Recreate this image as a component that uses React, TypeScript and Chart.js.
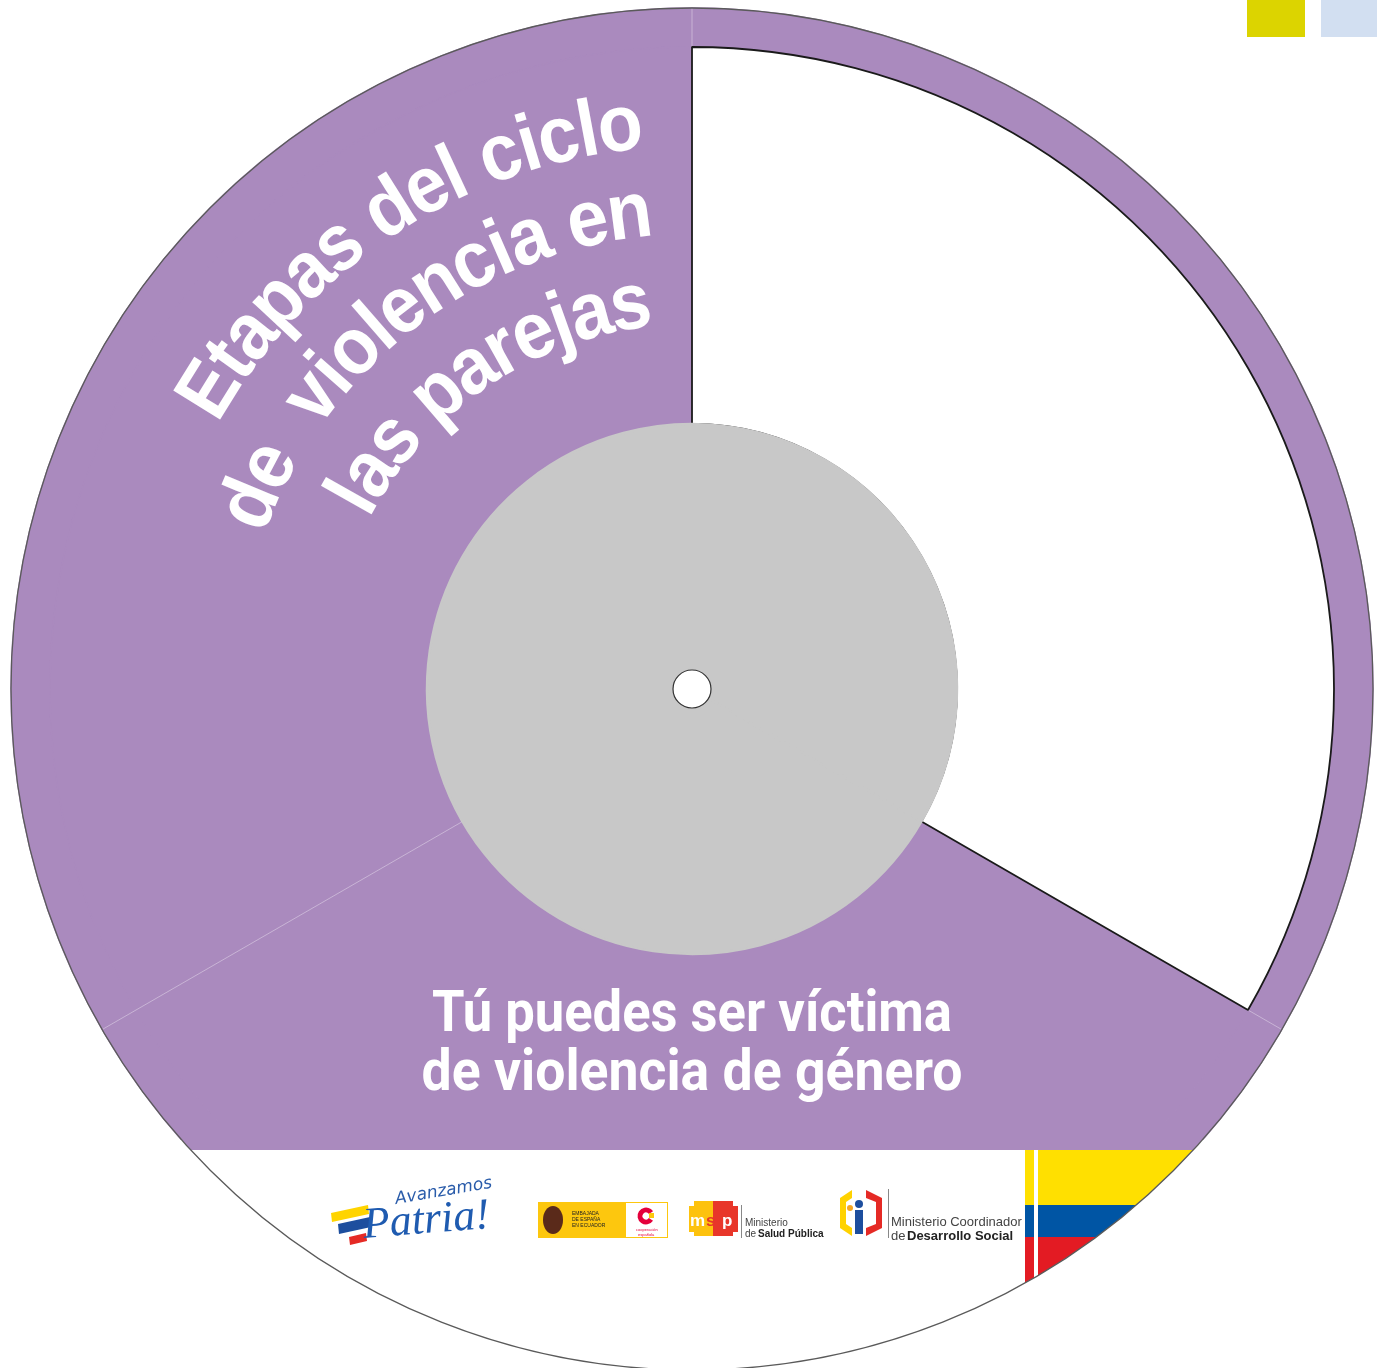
import React, { useEffect, useRef } from "react";
import { Chart, registerables } from "chart.js";

Chart.register(...registerables);

// ---- data ----
const segmentLabels = ["Etapa A", "Etapa B", "Etapa C"];
const ringValues = [1, 1, 1];
const segmentValues = [1, 1, 1];
const hubValues = [1];
const titleLines = ["Etapas del ciclo", "de  violencia en", "las parejas"];
const titleStartAngles = [-58.2, -67.3, -60.6];
const titleEndAngles = [-7.3, -7.5, -9.1];
const titleRadii = [543, 455, 365];
const subtitleLines = ["Tú puedes ser víctima", "de violencia de género"];

// ---- styles ----
const PURPLE = "#AA8ABE";
const GRAY = "#C8C8C8";
const SEP = "rgba(255,255,255,0.4)";

function arcText(ctx: CanvasRenderingContext2D, text: string, cx: number, cy: number, r: number, a0: number, a1: number, sx: number) {
  const chars = Array.from(text);
  const widths = chars.map((c) => ctx.measureText(c).width);
  const centers: number[] = [];
  let acc = 0;
  widths.forEach((w) => {
    centers.push(acc + w / 2);
    acc += w;
  });
  const first = centers[0];
  const last = centers[centers.length - 1];
  chars.forEach((ch, i) => {
    if (ch === " ") return;
    const a = ((a0 + ((centers[i] - first) / (last - first)) * (a1 - a0)) * Math.PI) / 180;
    ctx.save();
    ctx.translate(cx + r * Math.sin(a), cy - r * Math.cos(a));
    ctx.rotate(a);
    ctx.scale(sx, 1);
    ctx.textAlign = "center";
    ctx.textBaseline = "alphabetic";
    ctx.fillText(ch, 0, 0);
    ctx.restore();
  });
}

function fitText(ctx: CanvasRenderingContext2D, text: string, cx: number, y: number, width: number) {
  const w = ctx.measureText(text).width;
  ctx.save();
  ctx.translate(cx, y);
  ctx.scale(width / w, 1);
  ctx.textAlign = "center";
  ctx.fillText(text, 0, 0);
  ctx.restore();
}

const decor = {
  id: "decor",
  afterDatasetsDraw(chart: any) {
    const ctx: CanvasRenderingContext2D = chart.ctx;
    const outer = chart.getDatasetMeta(0).data;
    const hub = chart.getDatasetMeta(2).data[0];
    const cx = outer[0].x;
    const cy = outer[0].y;
    const R = outer[0].outerRadius;
    const rRing = outer[0].innerRadius;
    const rHub = hub.outerRadius;

    // faint separators between segments
    const radial = (angle: number, r0: number, r1: number) => {
      ctx.beginPath();
      ctx.moveTo(cx + r0 * Math.cos(angle), cy + r0 * Math.sin(angle));
      ctx.lineTo(cx + r1 * Math.cos(angle), cy + r1 * Math.sin(angle));
      ctx.stroke();
    };
    ctx.save();
    ctx.strokeStyle = SEP;
    ctx.lineWidth = 0.9;
    radial(outer[0].startAngle, rRing + 1, R);
    radial(outer[1].startAngle, rHub + 1, R);
    radial(outer[2].startAngle, rRing + 1, R);
    ctx.restore();

    // bottom white area + flag, clipped to the disc
    ctx.save();
    ctx.beginPath();
    ctx.arc(cx, cy, R + 1, 0, Math.PI * 2);
    ctx.clip();
    ctx.fillStyle = "#ffffff";
    ctx.fillRect(0, 1150, 1377, 300);
    ctx.fillStyle = "#FFE000";
    ctx.fillRect(1025, 1150, 400, 55);
    ctx.fillStyle = "#0055A4";
    ctx.fillRect(1025, 1205, 400, 32);
    ctx.fillStyle = "#E31B23";
    ctx.fillRect(1025, 1237, 400, 200);
    ctx.fillStyle = "#ffffff";
    ctx.fillRect(1034, 1150, 4, 300);
    ctx.restore();
    // white outside the disc (covers flag overflow)
    ctx.save();
    ctx.beginPath();
    ctx.rect(0, 0, 1377, 1368);
    ctx.arc(cx, cy, R, 0, Math.PI * 2, true);
    ctx.clip();
    ctx.fillStyle = "#ffffff";
    ctx.fillRect(0, 1140, 1377, 300);
    ctx.restore();

    // outline of the disc
    ctx.save();
    ctx.strokeStyle = "#5a5a5a";
    ctx.lineWidth = 1.3;
    ctx.beginPath();
    ctx.arc(cx, cy, R, 0, Math.PI * 2);
    ctx.stroke();
    // centre hole outline
    ctx.strokeStyle = "#333";
    ctx.lineWidth = 1.2;
    ctx.beginPath();
    ctx.arc(cx, cy, hub.innerRadius, 0, Math.PI * 2);
    ctx.fillStyle = "#fff";
    ctx.fill();
    ctx.stroke();
    ctx.restore();

    // curved title
    ctx.save();
    ctx.fillStyle = "#ffffff";
    ctx.font = "bold 80px 'Liberation Sans', Arial, sans-serif";
    titleLines.forEach((t, i) => arcText(ctx, t, cx, cy, titleRadii[i], titleStartAngles[i], titleEndAngles[i], 0.92));
    ctx.restore();

    // bottom text
    ctx.save();
    ctx.fillStyle = "#ffffff";
    ctx.font = "bold 58px Roboto, 'Liberation Sans', sans-serif";
    fitText(ctx, subtitleLines[0], 692, 1031, 520);
    fitText(ctx, subtitleLines[1], 692, 1090, 541);
    ctx.restore();

    // legend swatches
    ctx.save();
    ctx.fillStyle = "#DCD400";
    ctx.fillRect(1247, 0, 58, 37);
    ctx.fillStyle = "#D2DFF1";
    ctx.fillRect(1321, 0, 56, 37);
    ctx.restore();

    // ---- logos ----
    ctx.save();
    const bar = (x1: number, y1: number, x2: number, y2: number, t: number, c: string) => {
      ctx.fillStyle = c;
      ctx.beginPath();
      ctx.moveTo(x1, y1);
      ctx.lineTo(x2, y2);
      ctx.lineTo(x2 + 1, y2 + t);
      ctx.lineTo(x1 + 1, y1 + t);
      ctx.closePath();
      ctx.fill();
    };
    bar(331, 1213, 368, 1205, 9, "#FFD400");
    bar(338, 1224, 370, 1217, 10, "#1D4E9E");
    bar(349, 1237, 366, 1233, 8, "#E52A25");
    ctx.fillStyle = "#2A5CAA";
    ctx.save();
    ctx.translate(396, 1204);
    ctx.rotate(-0.17);
    ctx.font = "italic 17px 'DejaVu Sans', sans-serif";
    ctx.fillText("Avanzamos", 0, 0);
    ctx.restore();
    ctx.save();
    ctx.translate(364, 1238);
    ctx.rotate(-0.08);
    ctx.font = "italic 44px 'Liberation Serif', serif";
    ctx.fillStyle = "#1F5BB0";
    ctx.fillText("Patria!", 0, 0);
    ctx.restore();

    // Embajada de España
    ctx.fillStyle = "#FDC70E";
    ctx.fillRect(538, 1202, 88, 36);
    ctx.fillStyle = "#fff";
    ctx.fillRect(626, 1202, 42, 36);
    ctx.strokeStyle = "#FDC70E";
    ctx.lineWidth = 1;
    ctx.strokeRect(538.5, 1202.5, 129, 35);
    ctx.fillStyle = "#5a2a1a";
    ctx.beginPath();
    ctx.ellipse(553, 1220, 10, 14, 0, 0, Math.PI * 2);
    ctx.fill();
    ctx.fillStyle = "#222";
    ctx.font = "5px 'Liberation Sans', sans-serif";
    ctx.fillText("EMBAJADA", 572, 1215);
    ctx.fillText("DE ESPAÑA", 572, 1221);
    ctx.fillText("EN ECUADOR", 572, 1227);
    ctx.strokeStyle = "#E4003B";
    ctx.lineWidth = 5;
    ctx.beginPath();
    ctx.arc(646, 1216, 6, 0.6, Math.PI * 2 - 0.6);
    ctx.stroke();
    ctx.fillStyle = "#FDC70E";
    ctx.fillRect(649, 1213, 5, 5);
    ctx.fillStyle = "#E4003B";
    ctx.font = "4px 'Liberation Sans', sans-serif";
    ctx.fillText("cooperación", 636, 1231);
    ctx.fillText("española", 638, 1236);

    // MSP
    ctx.fillStyle = "#FDC20E";
    ctx.fillRect(689, 1206, 24, 26);
    ctx.fillRect(694, 1201, 19, 35);
    ctx.fillStyle = "#E8362A";
    ctx.fillRect(713, 1201, 20, 35);
    ctx.fillRect(713, 1206, 25, 26);
    ctx.fillStyle = "#fff";
    ctx.font = "bold 17px 'Liberation Sans', sans-serif";
    ctx.fillText("m", 690, 1226);
    ctx.fillText("p", 722, 1226);
    ctx.fillStyle = "#E8362A";
    ctx.fillText("s", 706, 1226);
    ctx.strokeStyle = "#888";
    ctx.lineWidth = 1;
    ctx.beginPath();
    ctx.moveTo(741.5, 1205);
    ctx.lineTo(741.5, 1238);
    ctx.stroke();
    ctx.fillStyle = "#444";
    ctx.font = "10px 'Liberation Sans', sans-serif";
    ctx.fillText("Ministerio", 745, 1226);
    ctx.fillText("de", 745, 1237);
    ctx.fillStyle = "#222";
    ctx.font = "bold 10px 'Liberation Sans', sans-serif";
    ctx.fillText("Salud Pública", 758, 1237);

    // Ministerio Coordinador de Desarrollo Social
    ctx.fillStyle = "#FFD200";
    ctx.beginPath();
    ctx.moveTo(852, 1190);
    ctx.lineTo(840, 1198);
    ctx.lineTo(840, 1228);
    ctx.lineTo(852, 1236);
    ctx.lineTo(852, 1228);
    ctx.lineTo(846, 1224);
    ctx.lineTo(846, 1202);
    ctx.lineTo(852, 1198);
    ctx.closePath();
    ctx.fill();
    ctx.fillStyle = "#E52A25";
    ctx.beginPath();
    ctx.moveTo(866, 1190);
    ctx.lineTo(882, 1198);
    ctx.lineTo(882, 1228);
    ctx.lineTo(866, 1236);
    ctx.lineTo(866, 1228);
    ctx.lineTo(876, 1224);
    ctx.lineTo(876, 1202);
    ctx.lineTo(866, 1198);
    ctx.closePath();
    ctx.fill();
    ctx.fillStyle = "#1D4E9E";
    ctx.fillRect(855, 1210, 8, 24);
    ctx.beginPath();
    ctx.arc(859, 1204, 4, 0, Math.PI * 2);
    ctx.fill();
    ctx.fillStyle = "#F5A623";
    ctx.beginPath();
    ctx.arc(850, 1208, 3, 0, Math.PI * 2);
    ctx.fill();
    ctx.strokeStyle = "#888";
    ctx.beginPath();
    ctx.moveTo(888.5, 1189);
    ctx.lineTo(888.5, 1238);
    ctx.stroke();
    ctx.fillStyle = "#444";
    ctx.font = "13px 'Liberation Sans', sans-serif";
    ctx.fillText("Ministerio Coordinador", 891, 1226);
    ctx.fillText("de", 891, 1240);
    ctx.fillStyle = "#222";
    ctx.font = "bold 13px 'Liberation Sans', sans-serif";
    ctx.fillText("Desarrollo Social", 907, 1240);
    ctx.restore();
  },
};

export default function App() {
  const ref = useRef<HTMLCanvasElement | null>(null);
  useEffect(() => {
    if (!ref.current) return;
    const chart = new Chart(ref.current, {
      type: "doughnut",
      data: {
        labels: segmentLabels,
        datasets: [
          {
            data: ringValues,
            backgroundColor: [PURPLE, PURPLE, PURPLE],
            borderColor: PURPLE,
            borderWidth: 1.5,
            weight: 39,
            order: 2,
          } as any,
          {
            data: segmentValues,
            backgroundColor: [PURPLE, PURPLE, "#ffffff"],
            borderColor: [PURPLE, PURPLE, "#1a1a1a"],
            borderWidth: [1.5, 1.5, 1.8],
            weight: 377,
            order: 1,
          } as any,
          {
            data: hubValues,
            backgroundColor: [GRAY],
            borderColor: GRAY,
            borderWidth: 2.4,
            weight: 246,
            order: 0,
          } as any,
        ],
      },
      options: {
        animation: false,
        responsive: false,
        devicePixelRatio: 1,
        rotation: 120,
        radius: 681,
        cutout: `${(19 / 681) * 100}%`,
        layout: { padding: { left: 7, top: 10, right: 0, bottom: 0 } },
        plugins: {
          legend: { display: false },
          tooltip: { enabled: false },
        },
      } as any,
      plugins: [decor],
    });
    return () => chart.destroy();
  }, []);
  return (
    <canvas
      ref={ref}
      width={1377}
      height={1368}
      style={{ position: "absolute", left: 0, top: 0, display: "block" }}
    />
  );
}
